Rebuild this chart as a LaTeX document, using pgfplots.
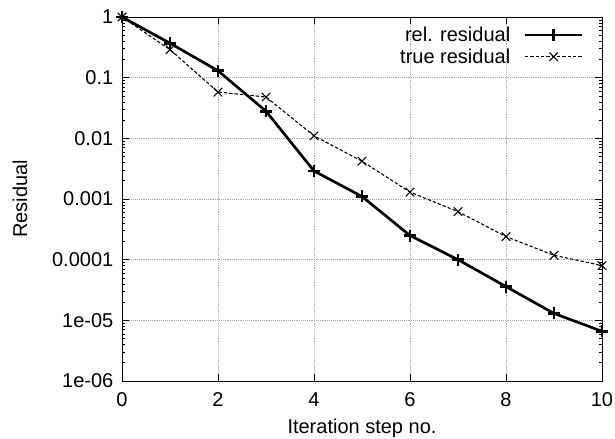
\documentclass[border=0pt]{standalone}
\usepackage{fontspec}
\setmainfont{Liberation Sans}
\usepackage{pgfplots}
\pgfplotsset{compat=1.18}
\newcommand{\chartfont}{\fontsize{15pt}{17pt}\selectfont}
\begin{document}
\begin{tikzpicture}[x=0.75pt,y=0.75pt]
\begin{axis}[
  scale only axis, width=360pt, height=273pt,
  ymode=log, xmin=0, xmax=10, ymin=1e-6, ymax=1,
  xtick={0,2,4,6,8,10},
  ytick={1e-6,1e-5,1e-4,1e-3,1e-2,1e-1,1},
  yticklabels={1e-06,1e-05,0.0001,0.001,0.01,0.1,1},
  /pgf/number format/assume math mode=true,
  tick label style={font=\chartfont},
  yticklabel style={xshift=-3pt},
  xticklabel style={yshift=-5pt},
  label style={font=\chartfont},
  tick align=inside, major tick length=5pt, minor tick length=2.5pt,
  tick style={black, thin},
  grid=major, grid style={gray!70, densely dotted, thin},
  xlabel={Iteration step no.}, ylabel={Residual},
  xlabel style={at={(axis description cs:0.5,-0.129)}, anchor=center},
  ylabel style={at={(axis description cs:-0.2125,0.5)}, anchor=center},
  axis line style={black, thin},
  legend style={draw=none, fill=none, at={(0.965,0.985)}, anchor=north east,
    font=\chartfont, inner sep=1pt, row sep=0pt,
    /tikz/every odd column/.append style={column sep=8pt}},
  legend cell align=right, legend plot pos=right,
  legend image code/.code={%
    \draw[mark repeat=2,mark phase=2,#1] plot coordinates {(0pt,0pt) (21.5pt,0pt) (43pt,0pt)};},
]
\addplot[black, line width=2pt, mark=+, mark size=4.5pt, mark options={line width=2pt}] coordinates {
(0,1) (1,0.37) (2,0.13) (3,0.028) (4,0.0029) (5,0.0011) (6,0.00025) (7,0.0001) (8,3.6e-5) (9,1.3e-5) (10,6.6e-6)
};
\addlegendentry{rel. residual}
\addplot[black, line width=0.8pt, dash pattern=on 2.5pt off 1.5pt, mark=x, mark size=4.5pt, mark options={solid, line width=0.8pt}] coordinates {
(0,1) (1,0.29) (2,0.058) (3,0.048) (4,0.011) (5,0.0042) (6,0.0013) (7,0.00062) (8,0.00024) (9,0.000118) (10,8e-5)
};
\addlegendentry{true residual}
\end{axis}
\pgfresetboundingbox
\path (current axis.south west) ++(-122,-58) rectangle ++(615,439);
\end{tikzpicture}
\end{document}
